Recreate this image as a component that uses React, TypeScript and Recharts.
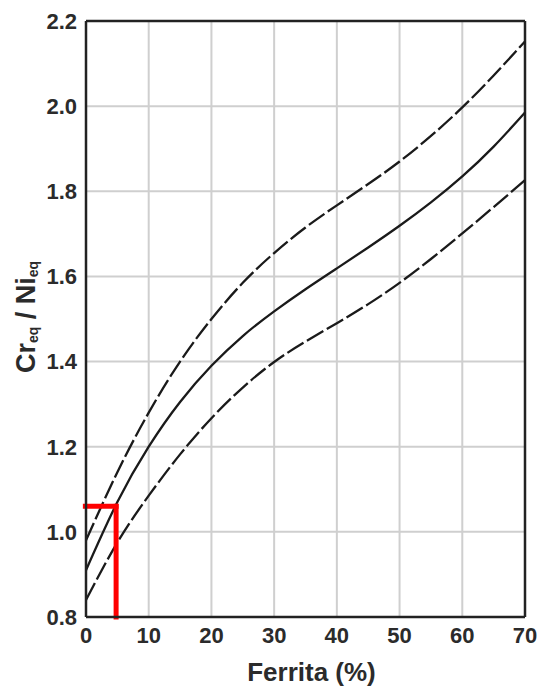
import { LineChart, Line, XAxis, YAxis, CartesianGrid, ReferenceLine } from "recharts";

const ferrita = [0, 5, 10, 15, 20, 25, 30, 35, 40, 45, 50, 55, 60, 65, 70];
const upper = [0.98, 1.14, 1.28, 1.4, 1.5, 1.585, 1.655, 1.715, 1.767, 1.817, 1.87, 1.93, 1.997, 2.072, 2.152];
const middle = [0.91, 1.07, 1.2, 1.305, 1.39, 1.46, 1.518, 1.57, 1.619, 1.668, 1.719, 1.774, 1.835, 1.905, 1.985];
const lower = [0.84, 0.975, 1.085, 1.182, 1.267, 1.339, 1.399, 1.447, 1.49, 1.535, 1.585, 1.641, 1.701, 1.763, 1.826];

const xTicks = [0, 10, 20, 30, 40, 50, 60, 70];
const yTicks = [0.8, 1.0, 1.2, 1.4, 1.6, 1.8, 2.0, 2.2];

// red marker (reading of Cr/Ni = 1.06 -> ~5 % ferrite)
const markX = 4.8;
const markY = 1.06;

const data = ferrita.map((f, i) => ({ f, upper: upper[i], middle: middle[i], lower: lower[i] }));

const FONT = "'Liberation Sans', Arial, sans-serif";
const TXT = "#2b2b2b";

function YLabel({ viewBox }: any) {
  const cx = viewBox.x + 18;
  const cy = viewBox.y + viewBox.height / 2 - 2;
  return (
    <text
      x={cx} y={cy} transform={`rotate(-90 ${cx} ${cy})`}
      textAnchor="middle" dominantBaseline="central"
      fontFamily={FONT} fontWeight="bold" fontSize={27} fill={TXT}
    >
      <tspan>Cr</tspan>
      <tspan fontSize={14} dy={7}>eq</tspan>
      <tspan dy={-7}> / Ni</tspan>
      <tspan fontSize={14} dy={7}>eq</tspan>
    </text>
  );
}

function XLabel({ viewBox }: any) {
  return (
    <text
      x={viewBox.x + viewBox.width / 2 + 6} y={viewBox.y + 64}
      textAnchor="middle"
      fontFamily={FONT} fontWeight="bold" fontSize={26} fill={TXT}
    >
      Ferrita (%)
    </text>
  );
}

const tickStyle = { fontFamily: FONT, fontWeight: "bold", fontSize: 22, fill: TXT };

export default function App() {
  return (
    <LineChart
      width={534} height={684} data={data}
      margin={{ top: 13, right: 17, left: 0, bottom: 0 }}
    >
      <CartesianGrid stroke="#cfcfcf" strokeWidth={2} />
      <XAxis
        dataKey="f" type="number" domain={[0, 70]} ticks={xTicks}
        height={75} tick={tickStyle} tickLine={false} tickSize={8} tickMargin={2}
        axisLine={{ stroke: "#222", strokeWidth: 2.5 }}
        label={{ content: <XLabel /> }}
      />
      <YAxis
        type="number" domain={[0.8, 2.2]} ticks={yTicks}
        tickFormatter={(v: number) => v.toFixed(1)}
        width={78} tick={tickStyle} tickLine={false} tickSize={7} tickMargin={2}
        axisLine={{ stroke: "#222", strokeWidth: 2.5 }}
        label={{ content: <YLabel /> }}
      />
      <ReferenceLine y={2.2} stroke="#222" strokeWidth={2.5} />
      <ReferenceLine x={70} stroke="#222" strokeWidth={2.5} />
      <Line
        type="natural" dataKey="upper" stroke="#1a1a1a" strokeWidth={2.3}
        strokeDasharray="19 4" dot={false} activeDot={false} isAnimationActive={false}
      />
      <Line
        type="natural" dataKey="middle" stroke="#1a1a1a" strokeWidth={2.3}
        dot={false} activeDot={false} isAnimationActive={false}
      />
      <Line
        type="natural" dataKey="lower" stroke="#1a1a1a" strokeWidth={2.3}
        strokeDasharray="19 4" dot={false} activeDot={false} isAnimationActive={false}
      />
      <ReferenceLine
        segment={[{ x: -0.1, y: markY }, { x: markX, y: markY }]}
        stroke="#ff0000" strokeWidth={5} strokeLinecap="square" ifOverflow="visible"
      />
      <ReferenceLine
        segment={[{ x: markX, y: markY }, { x: markX, y: 0.8 }]}
        stroke="#ff0000" strokeWidth={5} strokeLinecap="square" ifOverflow="visible"
      />
    </LineChart>
  );
}
